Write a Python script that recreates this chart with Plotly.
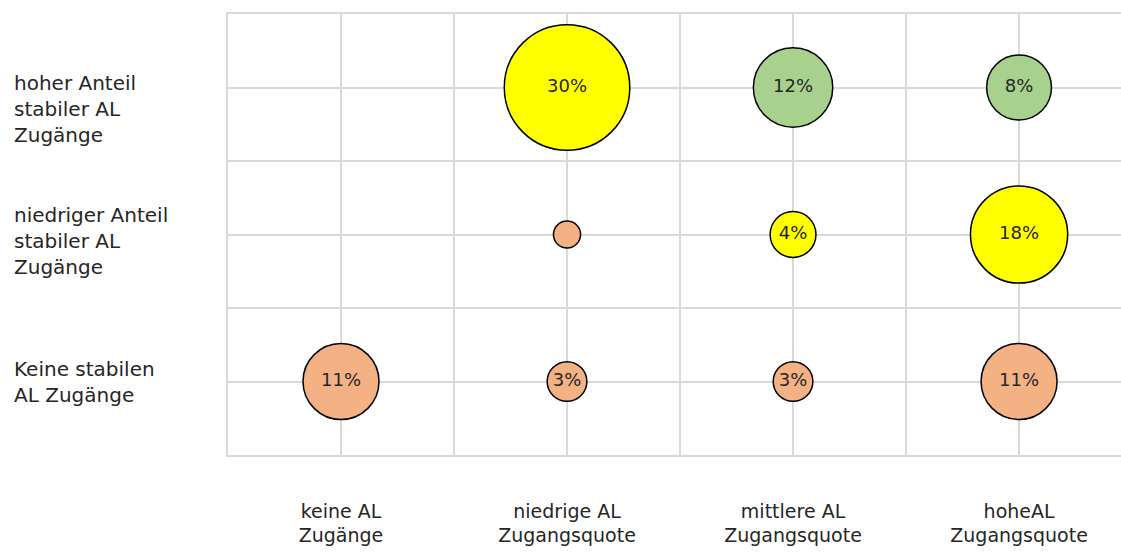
import plotly.graph_objects as go

x_categories = ["keine AL<br>Zugänge", "niedrige AL<br>Zugangsquote",
                "mittlere AL<br>Zugangsquote", "hoheAL<br>Zugangsquote"]
y_categories = ["Keine stabilen<br>AL Zugänge",
                "niedriger Anteil<br>stabiler AL<br>Zugänge",
                "hoher Anteil<br>stabiler AL<br>Zugänge"]

# bubbles: x category index, y category index, share (%), group
bubble_x = [1, 2, 3, 1, 2, 3, 0, 1, 2, 3]
bubble_y = [2, 2, 2, 1, 1, 1, 0, 0, 0, 0]
bubble_values = [30, 12, 8, 1.4, 4, 18, 11, 3, 3, 11]
bubble_labels = ["30%", "12%", "8%", "", "4%", "18%", "11%", "3%", "3%", "11%"]
bubble_group = ["yellow", "green", "green", "orange", "yellow", "yellow",
                "orange", "orange", "orange", "orange"]

palette = {"yellow": "#FFFF00", "green": "#A9D18E", "orange": "#F4B183"}
FONT = "DejaVu Sans"
TXT = "#262626"
GRID = "#D9D9D9"

fig = go.Figure()
fig.add_trace(go.Scatter(
    x=bubble_x, y=bubble_y, mode="markers+text",
    text=bubble_labels, textposition="middle center",
    textfont=dict(family=FONT, size=18, color=TXT),
    marker=dict(size=bubble_values, sizemode="area", sizeref=11 / (2 * 38 ** 2),
                color=[palette[g] for g in bubble_group],
                line=dict(color="black", width=1.5), opacity=1),
    showlegend=False, hoverinfo="skip", cliponaxis=False,
))

label_shift = [0, -6, -21]
for i, lab in enumerate(y_categories):
    fig.add_annotation(x=0, xref="paper", xshift=-216, y=i, yref="y",
                       yshift=label_shift[i], text=lab, showarrow=False,
                       xanchor="left", align="left",
                       font=dict(family=FONT, size=20, color=TXT))

fig.update_xaxes(range=[-0.5, 3.451], tickvals=list(range(len(x_categories))),
                 ticktext=x_categories, showgrid=True, gridcolor=GRID, gridwidth=1.5,
                 zeroline=False, showline=True, mirror=True, linecolor=GRID,
                 linewidth=1.5, ticks="", ticklabelstandoff=38, automargin=False,
                 tickfont=dict(family=FONT, size=19, color=TXT),
                 minor=dict(tickvals=[-0.5, 0.5, 1.5, 2.5, 3.5], showgrid=True,
                            gridcolor=GRID, gridwidth=1.5, ticks=""))
fig.update_yaxes(range=[-0.5, 2.5], tickvals=list(range(len(y_categories))),
                 showticklabels=False, showgrid=True, gridcolor=GRID, gridwidth=1.5,
                 zeroline=False, showline=True, linecolor=GRID, linewidth=1.5,
                 ticks="", automargin=False,
                 minor=dict(tickvals=[-0.5, 0.5, 1.5, 2.5], showgrid=True,
                            gridcolor=GRID, gridwidth=1.5, ticks=""))

fig.update_layout(width=1121, height=552, margin=dict(l=228, r=0, t=14, b=97),
                  plot_bgcolor="white", paper_bgcolor="white",
                  font=dict(family=FONT, color=TXT))
fig.write_html("out.html")
